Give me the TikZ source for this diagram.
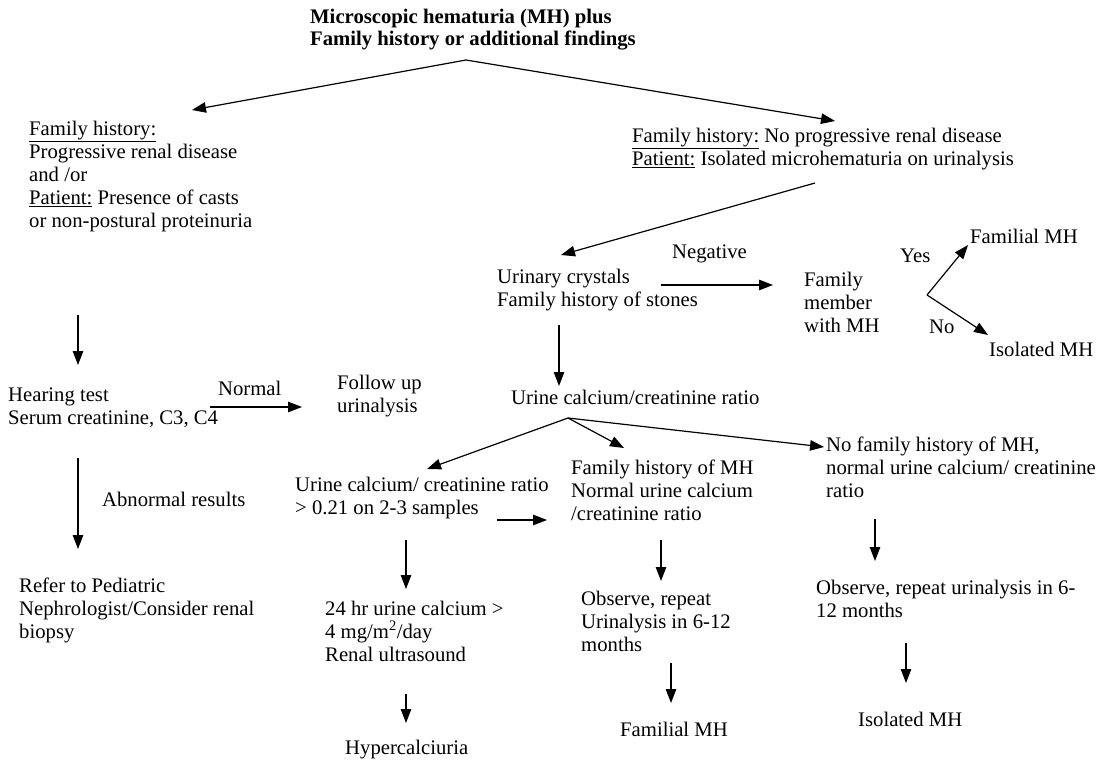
\documentclass[tikz,border=0pt]{standalone}
\usepackage{fontspec}
\setmainfont{Liberation Serif}
\usetikzlibrary{arrows.meta}
\begin{document}
\begin{tikzpicture}[x=1pt,y=-1pt,
  txt/.style={anchor=north west,inner sep=0pt,align=left,
    font=\fontsize{20.7}{23}\selectfont,execute at begin node=\strut},
  ttl/.style={txt,font=\fontsize{20.7}{22.5}\selectfont\bfseries},
  arr/.style={-{Triangle[length=14pt,width=10.5pt]},line width=1.2pt}]
\useasboundingbox (0,0) rectangle (1107,762);
\def\sb{16.1}
% ---- nodes (x, first baseline - strut height)
\node[ttl] (title) at (310,{25-\sb}) {Microscopic hematuria (MH) plus\\Family history or additional findings};
\node[txt] (leftA) at (29,{137-\sb}) {\underline{Family history:}\\Progressive renal disease\\and /or\\\underline{Patient:} Presence of casts\\or non-postural proteinuria};
\node[txt] (rightA) at (632,{144-\sb}) {\underline{Family history:} No progressive renal disease\\\underline{Patient:} Isolated microhematuria on urinalysis};
\node[txt] (crystals) at (497,{285-\sb}) {Urinary crystals\\Family history of stones};
\node[txt] (neg) at (672,{258-\sb}) {Negative};
\node[txt] (member) at (804,{288-\sb}) {Family\\member\\with MH};
\node[txt] (yes) at (900,{262-\sb}) {Yes};
\node[txt] (no) at (929,{333-\sb}) {No};
\node[txt] (famA) at (970,{243-\sb}) {Familial MH};
\node[txt] (isoA) at (989,{356-\sb}) {Isolated MH};
\node[txt] (ratio) at (511,{404-\sb}) {Urine calcium/creatinine ratio};
\node[txt] (hearing) at (8,{404-\sb}) {Hearing test\\Serum creatinine, C3, C4};
\node[txt] (normal) at (218,{395-\sb}) {Normal};
\node[txt] (follow) at (337,{391-\sb}) {Follow up\\urinalysis};
\node[txt] (abn) at (102,{506-\sb}) {Abnormal results};
\node[txt] (refer) at (19,{594-\sb}) {Refer to Pediatric\\Nephrologist/Consider renal\\biopsy};
\node[txt] (high) at (295,{493-\sb}) {Urine calcium/ creatinine ratio\\> 0.21 on 2-3 samples};
\node[txt] (famhist) at (571,{476-\sb}) {Family history of MH\\Normal urine calcium\\/creatinine ratio};
\node[txt] (nofam) at (826,{453-\sb}) {No family history of MH,\\normal urine calcium/ creatinine\\ratio};
\node[txt] (u24) at (325,{617-\sb}) {24 hr urine calcium >\\4 mg/m\textsuperscript{2}/day\\Renal ultrasound};
\node[txt] (hyper) at (345,{754-\sb}) {Hypercalciuria};
\node[txt] (obsA) at (581,{607-\sb}) {Observe, repeat\\Urinalysis in 6-12\\months};
\node[txt] (famB) at (620,{736-\sb}) {Familial MH};
\node[txt] (obsB) at (816,{596-\sb}) {Observe, repeat urinalysis in 6-\\12 months};
\node[txt] (isoB) at (858,{726-\sb}) {Isolated MH};
% ---- connector end points
\coordinate (top) at (466,60);
\coordinate (leftAin) at (192,110);
\coordinate (rightAin) at (835,121);
\coordinate (leftAout) at (78,315);
\coordinate (hearingin) at (78,365);
\coordinate (rightAout) at (815,183);
\coordinate (crystalsin) at (561,255);
\coordinate (crystalsout) at (661,285);
\coordinate (memberin) at (773,285);
\coordinate (fork) at (927,295);
\coordinate (famAin) at (968,245);
\coordinate (isoAin) at (988,335);
\coordinate (crystalsdown) at (559,325);
\coordinate (ratioin) at (559,386);
\coordinate (hearingout) at (210,407);
\coordinate (followin) at (302,407);
\coordinate (hearingdown) at (78,458);
\coordinate (referin) at (78,549);
\coordinate (ratioout) at (568,418);
\coordinate (highin) at (427,469);
\coordinate (famhistin) at (624,448);
\coordinate (nofamin) at (824,447);
\coordinate (highout) at (497,520);
\coordinate (famhistside) at (547,520);
\coordinate (highdown) at (406,540);
\coordinate (u24in) at (406,589);
\coordinate (u24out) at (406,694);
\coordinate (hyperin) at (406,723);
\coordinate (famhistdown) at (661,540);
\coordinate (obsAin) at (661,581);
\coordinate (obsAout) at (671,663);
\coordinate (famBin) at (671,703);
\coordinate (nofamdown) at (875,519);
\coordinate (obsBin) at (875,561);
\coordinate (obsBout) at (906,643);
\coordinate (isoBin) at (906,683);
% ---- connectors
\draw[arr] (top) -- (leftAin);
\draw[arr] (top) -- (rightAin);
\draw[arr] (leftAout) -- (hearingin);
\draw[arr] (rightAout) -- (crystalsin);
\draw[arr] (crystalsout) -- (memberin);
\draw[arr] (fork) -- (famAin);
\draw[arr] (fork) -- (isoAin);
\draw[arr] (crystalsdown) -- (ratioin);
\draw[arr] (hearingout) -- (followin);
\draw[arr] (hearingdown) -- (referin);
\draw[arr] (ratioout) -- (highin);
\draw[arr] (ratioout) -- (famhistin);
\draw[arr] (ratioout) -- (nofamin);
\draw[arr] (highout) -- (famhistside);
\draw[arr] (highdown) -- (u24in);
\draw[arr] (u24out) -- (hyperin);
\draw[arr] (famhistdown) -- (obsAin);
\draw[arr] (obsAout) -- (famBin);
\draw[arr] (nofamdown) -- (obsBin);
\draw[arr] (obsBout) -- (isoBin);
\end{tikzpicture}
\end{document}
